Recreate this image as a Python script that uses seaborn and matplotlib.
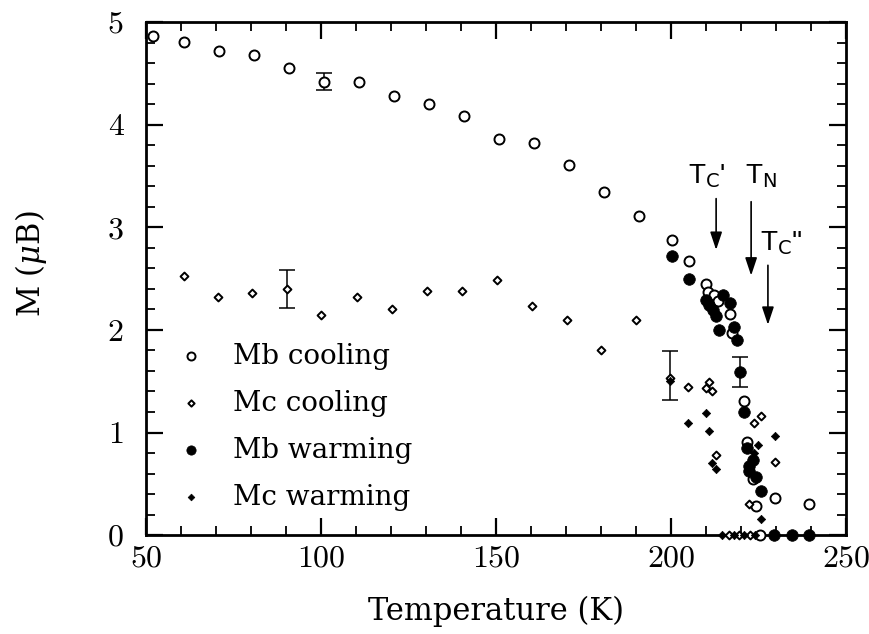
import matplotlib
matplotlib.use("Agg")
import matplotlib.pyplot as plt
from matplotlib.ticker import MultipleLocator
import seaborn as sns

# Magnetic moment vs temperature, b- and c-axis components, cooling and warming runs
mb_cool_T = [52, 61, 71, 81, 91, 101, 111, 121, 131, 141, 151, 161, 171, 181, 191,
             200.2, 205.1, 210.0, 210.7, 212.3, 213.3, 216.9, 217.5, 220.9, 221.6,
             223.5, 224.4, 229.7, 239.5, 225.4]
mb_cool_M = [4.87, 4.81, 4.72, 4.68, 4.55, 4.42, 4.42, 4.28, 4.20, 4.09, 3.86, 3.82, 3.61, 3.34, 3.11,
             2.88, 2.67, 2.45, 2.37, 2.34, 2.28, 2.16, 1.97, 1.31, 0.91,
             0.55, 0.28, 0.36, 0.30, 0.0]

mc_cool_T = [61, 70.5, 80.4, 90.2, 100.1, 110.3, 120.3, 130.4, 140.4, 150.4, 160.2, 170.3, 180.1, 190.0,
             199.7, 204.8, 209.9, 210.9, 211.8, 213.0, 225.7, 223.8, 229.7, 222.2,
             216.5, 219.5, 222.5]
mc_cool_M = [2.53, 2.32, 2.36, 2.40, 2.15, 2.32, 2.20, 2.38, 2.38, 2.49, 2.23, 2.10, 1.80, 2.10,
             1.53, 1.44, 1.43, 1.49, 1.40, 0.78, 1.16, 1.09, 0.71, 0.30,
             0.0, 0.0, 0.0]

mb_warm_T = [200.2, 205.1, 210.0, 210.9, 211.9, 212.9, 214.9, 216.9, 213.7, 218.1, 218.8, 219.7,
             220.9, 221.6, 223.5, 222.4, 222.4, 224.4, 225.6, 229.4, 234.6, 239.4]
mb_warm_M = [2.72, 2.50, 2.29, 2.24, 2.19, 2.14, 2.34, 2.26, 2.00, 2.03, 1.90, 1.59,
             1.20, 0.85, 0.73, 0.67, 0.62, 0.57, 0.43, 0.0, 0.0, 0.0]

mc_warm_T = [199.7, 204.8, 209.9, 210.9, 211.8, 212.9, 229.7, 225.0, 223.6, 225.6,
             214.5, 218.0, 221.0, 224.0]
mc_warm_M = [1.50, 1.09, 1.19, 1.01, 0.70, 0.64, 0.97, 0.88, 0.80, 0.16,
             0.0, 0.0, 0.0, 0.0]

# representative error bars
err_T = [101, 90.2, 199.7, 219.7]
err_M = [4.42, 2.40, 1.555, 1.59]
err_dM = [0.085, 0.185, 0.235, 0.15]

# transition temperatures marked with arrows
trans_labels = ["T$_\\mathrm{C}$'", "T$_\\mathrm{N}$", "T$_\\mathrm{C}$''"]
trans_T = [212.9, 222.9, 227.7]
arrow_top = [3.28, 3.25, 2.63]
arrow_tip = [2.78, 2.53, 2.05]
label_T = [205.0, 221.1, 225.4]
label_M = [3.43, 3.43, 2.78]

sns.set_style("ticks")
plt.rcParams["font.family"] = ["DejaVu Serif"]
plt.rcParams["mathtext.fontset"] = "dejavuserif"
for key in ["text.color", "axes.labelcolor", "xtick.color", "ytick.color", "axes.edgecolor"]:
    plt.rcParams[key] = "black"

fig = plt.figure(figsize=(8.69, 6.34), dpi=100)
ax = fig.add_axes([0.168, 0.156, 0.8055, 0.809])

sns.scatterplot(x=mb_cool_T, y=mb_cool_M, marker="o", s=52, facecolor="white",
                edgecolor="black", linewidth=1.4, label="Mb cooling", ax=ax, clip_on=False, zorder=3)
sns.scatterplot(x=mc_cool_T, y=mc_cool_M, marker="D", s=16, facecolor="white",
                edgecolor="black", linewidth=1.4, label="Mc cooling", ax=ax, clip_on=False, zorder=3)
sns.scatterplot(x=mb_warm_T, y=mb_warm_M, marker="o", s=70, color="black",
                edgecolor="black", linewidth=0.5, label="Mb warming", ax=ax, clip_on=False, zorder=3)
sns.scatterplot(x=mc_warm_T, y=mc_warm_M, marker="D", s=18, color="black",
                edgecolor="black", linewidth=0.5, label="Mc warming", ax=ax, clip_on=False, zorder=3)

ax.errorbar(err_T, err_M, yerr=err_dM, fmt="none", ecolor="black",
            elinewidth=1.1, capsize=5.5, capthick=1.1, zorder=2)

for lab, t, y0, y1, lt, lm in zip(trans_labels, trans_T, arrow_top, arrow_tip, label_T, label_M):
    ax.annotate("", xy=(t, y1), xytext=(t, y0),
                arrowprops=dict(arrowstyle="-|>,head_length=0.9,head_width=0.3",
                                color="black", lw=1.2, mutation_scale=12, shrinkA=0, shrinkB=0))
    ax.text(lt, lm, lab, fontsize=20, family="Liberation Sans",
            math_fontfamily="dejavusans", ha="left", va="baseline")

ax.set_xlim(50, 250)
ax.set_ylim(0, 5)
ax.xaxis.set_major_locator(MultipleLocator(50))
ax.xaxis.set_minor_locator(MultipleLocator(10))
ax.yaxis.set_major_locator(MultipleLocator(1))
ax.yaxis.set_minor_locator(MultipleLocator(0.2))
ax.tick_params(which="both", direction="in", top=True, right=True, color="black",
               labelcolor="black")
ax.tick_params(which="major", length=12, width=1.6, labelsize=23)
ax.tick_params(which="minor", length=6.5, width=1.3)
ax.tick_params(axis="x", which="major", pad=7)
ax.tick_params(axis="y", which="major", pad=16)
for lbl in ax.get_xticklabels() + ax.get_yticklabels():
    lbl.set_family(["cmr10"])
for sp in ax.spines.values():
    sp.set_linewidth(2.0)
    sp.set_color("black")

ax.set_xlabel("Temperature (K)", fontsize=22, labelpad=17)
ax.set_ylabel(r"M ($\mu$B)", fontsize=22)
ax.yaxis.set_label_coords(-0.138, 0.53)

ax.legend(loc="upper left", bbox_to_anchor=(0.045, 0.375), frameon=False, fontsize=20,
          handlelength=1.0, handletextpad=1.0, labelspacing=0.72, markerscale=0.8,
          borderpad=0, borderaxespad=0)

fig.savefig("out.png", dpi=100)
